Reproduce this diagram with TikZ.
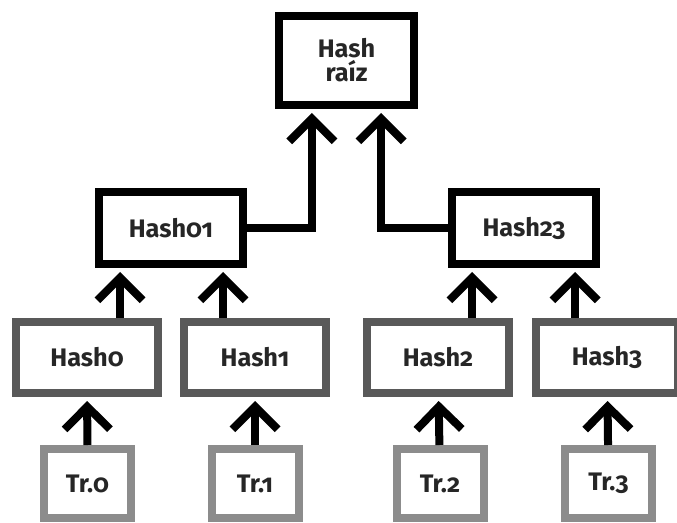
\documentclass[tikz,border=0pt]{standalone}
\usepackage{fontspec}
\setmainfont{Fira Sans}[Numbers=OldStyle]
\usetikzlibrary{arrows.meta}

\begin{document}
\begin{tikzpicture}[x=0.75pt, y=-0.75pt,
    every node/.style={font=\bfseries\fontsize{19}{21}\selectfont, text=black!85, line width=6pt, fill=white},
    top/.style={draw=black, minimum width=101.25pt, minimum height=66.75pt, align=center},
    mid/.style={draw=black, minimum width=108pt, minimum height=54pt},
    leaf/.style={draw=black!65, minimum width=106.5pt, minimum height=53.25pt},
    tx/.style={draw=black!45, minimum width=65.25pt, minimum height=51.75pt},
    arr/.style={line width=6pt, -{Straight Barb[length=17pt, width=34pt]}, shorten >=3pt}]
  \useasboundingbox (0,0) rectangle (677,523);
  \node[top] (root) at (346.5,60.5) {Hash\\[-3pt]raíz};
  \node[mid] (h01) at (171,228) {Hash01};
  \node[mid] (h23) at (524,228) {Hash23};
  \node[leaf] (h0) at (87,357.5) {Hash0};
  \node[leaf] (h1) at (255,357.5) {Hash1};
  \node[leaf] (h2) at (438,357.5) {Hash2};
  \node[leaf] (h3) at (607,357.5) {Hash3};
  \node[tx] (t0) at (87.5,483.5) {Tr.0};
  \node[tx] (t1) at (255,483.5) {Tr.1};
  \node[tx] (t2) at (440,483.5) {Tr.2};
  \node[tx] (t3) at (608.5,483.5) {Tr.3};
  % Draw the hash links
  \draw[arr] (t0) -- (h0);
  \draw[arr] (t1) -- (h1);
  \draw[arr] (t2) -- (h2);
  \draw[arr] (t3) -- (h3);
  \draw[arr] (h0.north -| 120,0) -- (h01.south -| 120,0);
  \draw[arr] (h1.north -| 223,0) -- (h01.south -| 223,0);
  \draw[arr] (h2.north -| 472,0) -- (h23.south -| 472,0);
  \draw[arr] (h3.north -| 575,0) -- (h23.south -| 575,0);
  \draw[arr] (h01.east) -| ([xshift=-25.9pt]root.south);
  \draw[arr] (h23.west) -| ([xshift=25.9pt]root.south);
\end{tikzpicture}
\end{document}
